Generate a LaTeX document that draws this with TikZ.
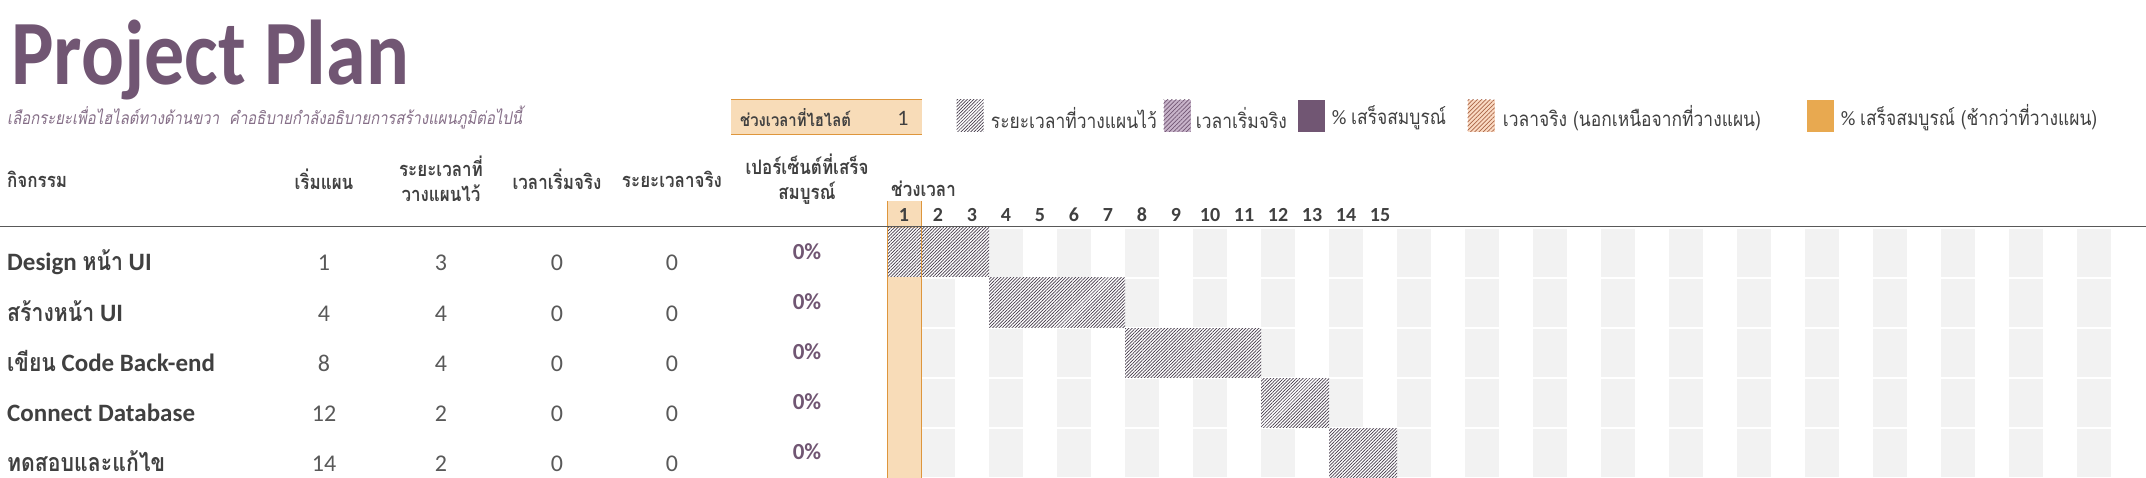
\documentclass[tikz,border=0pt]{standalone}
\usepackage{fontspec}
\setmainfont{Carlito}
\newfontfamily\thaifont[Script=Thai,FakeStretch=0.85,ItalicFont=* Oblique,BoldFont=* Bold,BoldItalicFont=* Bold Oblique]{Loma}
\newfontfamily\titlefont[FakeStretch=0.87]{Carlito}
\newcommand{\tht}[1]{{\thaifont #1}}
\usetikzlibrary{patterns.meta}
\definecolor{plum}{RGB}{113,86,115}
\definecolor{inkgray}{RGB}{64,64,64}
\definecolor{numgray}{RGB}{89,89,89}
\definecolor{tanfill}{RGB}{248,220,184}
\definecolor{tanline}{RGB}{222,150,60}
\definecolor{ambfill}{RGB}{232,169,80}
\definecolor{stripe}{RGB}{242,242,242}
\definecolor{hatch}{RGB}{70,60,75}
\definecolor{lilac}{RGB}{200,180,202}
\definecolor{peach}{RGB}{250,218,195}
\definecolor{rust}{RGB}{170,100,70}
\begin{document}
\begin{tikzpicture}[x=1pt,y=-1pt]
\tikzstyle{every node}=[inner sep=0pt,text=inkgray];
\tikzstyle{colhead}=[font=\fontsize{20}{25}\selectfont\bfseries,align=center];
\tikzstyle{cell}=[font=\fontsize{24}{24}\selectfont,text=numgray,anchor=base];
\tikzstyle{legtxt}=[font=\fontsize{20.5}{24}\selectfont,anchor=west];
\tikzstyle{legsq}=[minimum width=27pt,minimum height=32pt];
\tikzstyle{planbar}=[fill=white,postaction={pattern={Lines[angle=45,distance=2.3pt,line width=0.7pt]},pattern color=hatch}];
\useasboundingbox (0,0) rectangle (2146,478);
% title and note
\path (11,85) node[anchor=base west,text=plum,font=\titlefont\fontsize{92}{92}\selectfont\bfseries] (title) {Project Plan};
\path (7,118) node[anchor=west,text=plum!85,font=\fontsize{17.5}{20}\selectfont\thaifont\itshape] (note) {เลือกระยะเพื่อไฮไลต์ทางด้านขวา\ \ คำอธิบายกำลังอธิบายการสร้างแผนภูมิต่อไปนี้};
% highlight box
\fill[tanfill] (731,100) rectangle (922,135);
\draw[tanline,line width=1pt] (731,100) -- (922,100) (731,135) -- (922,135);
\path (740,118) node[anchor=west,font=\fontsize{17.5}{24}\selectfont\thaifont\bfseries] (hlLabel) {ช่วงเวลาที่ไฮไลต์};
\path (903,118) node[font=\fontsize{22}{24}\selectfont] (hlValue) {1};
% legend
\path (970,116) node[legsq,planbar] (sq1) {};
\path (1177,116) node[legsq,fill=lilac,postaction={pattern={Lines[angle=45,distance=3pt,line width=0.7pt]},pattern color=plum}] (sq2) {};
\path (1311,116) node[legsq,fill=plum] (sq3) {};
\path (1481,116) node[legsq,fill=peach,postaction={pattern={Lines[angle=45,distance=3pt,line width=0.7pt]},pattern color=rust}] (sq4) {};
\path (1820,116) node[legsq,fill=ambfill] (sq5) {};
\path (sq1.east) ++(7,2) node[legtxt] (lg1) {\tht{ระยะเวลาที่วางแผนไว้}};
\path (sq2.east) ++(5,2) node[legtxt] (lg2) {\tht{เวลาเริ่มจริง}};
\path (sq3.east) ++(7,2) node[legtxt] (lg3) {\% \tht{เสร็จสมบูรณ์}};
\path (sq4.east) ++(8,2) node[legtxt] (lg4) {\tht{เวลาจริง (นอกเหนือจากที่วางแผน)}};
\path (sq5.east) ++(7,2) node[legtxt] (lg5) {\% \tht{เสร็จสมบูรณ์ (ช้ากว่าที่วางแผน)}};
% column heads
\path (7,179) node[colhead,anchor=west] (hTask) {\thaifont กิจกรรม};
\path (324,179) node[colhead] (hPlanStart) {\thaifont เริ่มแผน};
\path (441,179) node[colhead] (hPlanDur) {\thaifont ระยะเวลาที่\\\thaifont วางแผนไว้};
\path (557,179) node[colhead] (hActStart) {\thaifont เวลาเริ่มจริง};
\path (672,179) node[colhead] (hActDur) {\thaifont ระยะเวลาจริง};
\path (807,179) node[colhead] (hPct) {\thaifont เปอร์เซ็นต์ที่เสร็จ\\\thaifont สมบูรณ์};
\path (891,189) node[colhead,anchor=west] (hPeriod) {\thaifont ช่วงเวลา};
% gantt grid
\fill[tanfill] (887,201) rectangle (921,478);
\foreach \r in {1,...,5}
  \foreach \k in {2,4,...,36}
    \fill[stripe] ({887+34*(\k-1)},{229+50*(\r-1)}) rectangle ++(34,48);
\foreach \r/\s/\d in {1/1/3,2/4/4,3/8/4,4/12/2,5/14/2}
  \path[planbar] ({887+34*(\s-1)},{228+50*(\r-1)}) rectangle ++({34*\d},49);
\draw[tanline,line width=1pt] (887,201) -- (887,478) (921,201) -- (921,478);
\draw[numgray,line width=1.5pt] (0,226.5) -- (2146,226.5);
\foreach \k in {1,...,15}
  \path ({904+34*(\k-1)},215) node[font=\fontsize{20}{24}\selectfont\bfseries] (n\k) {\k};
% activities
\foreach \r/\name/\ps/\pd in {1/{Design \tht{หน้า} UI}/1/3,2/{\tht{สร้างหน้า} UI}/4/4,3/{\tht{เขียน} Code Back-end}/8/4,4/{Connect Database}/12/2,5/{\tht{ทดสอบและแก้ไข}}/14/2}{
  \path (7,{271+50*(\r-1)}) node[anchor=base west,font=\fontsize{25}{25}\selectfont\bfseries] (task\r) {\name};
  \path (324,{271+50*(\r-1)}) node[cell] (ps\r) {\ps};
  \path (441,{271+50*(\r-1)}) node[cell] (pd\r) {\pd};
  \path (557,{271+50*(\r-1)}) node[cell] (as\r) {0};
  \path (672,{271+50*(\r-1)}) node[cell] (ad\r) {0};
  \path (807,{252+50*(\r-1)}) node[text=plum,font=\fontsize{23}{24}\selectfont\bfseries] (pct\r) {0\%};
}
\end{tikzpicture}
\end{document}
